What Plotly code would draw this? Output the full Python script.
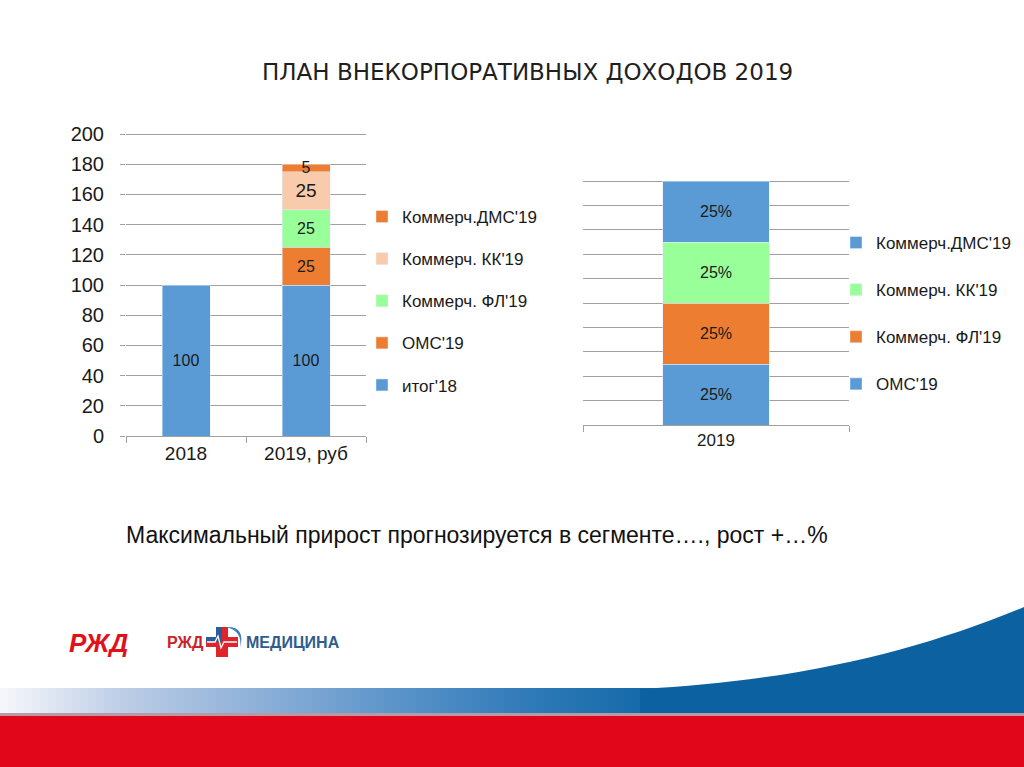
import plotly.graph_objects as go

W, H = 1024, 767


def px(x):
    return x / W


def py(y):
    return 1 - y / H


# ---------------- Data: left chart ----------------
left_categories = ["2018", "2019, руб"]
left_series = ["итог'18", "ОМС'19", "Коммерч. ФЛ'19", "Коммерч. КК'19", "Коммерч.ДМС'19"]
itog18 = [100, 100]
oms19 = [None, 25]
fl19 = [None, 25]
kk19 = [None, 25]
dms19 = [None, 5]
left_values = [itog18, oms19, fl19, kk19, dms19]
left_colors = ["#5B9BD5", "#ED7D31", "#99FF99", "#F8CBAD", "#ED7D31"]
left_label_sizes = [16, 16, 16, 19, 16]
left_yticks = list(range(0, 201, 20))

# ---------------- Data: right chart ----------------
right_categories = ["2019"]
right_series = ["ОМС'19", "Коммерч. ФЛ'19", "Коммерч. КК'19", "Коммерч.ДМС'19"]
right_oms = [0.25]
right_fl = [0.25]
right_kk = [0.25]
right_dms = [0.25]
right_values = [right_oms, right_fl, right_kk, right_dms]
right_colors = ["#5B9BD5", "#ED7D31", "#99FF99", "#5B9BD5"]

title_text = "ПЛАН ВНЕКОРПОРАТИВНЫХ ДОХОДОВ 2019"
note_text = "Максимальный прирост прогнозируется в сегменте…., рост +…%"

FONT = "Liberation Sans, Arial, sans-serif"
GRID = "#A0A0A0"

fig = go.Figure()

for i, (name, vals, col, fs) in enumerate(zip(left_series, left_values, left_colors, left_label_sizes)):
    fig.add_trace(go.Bar(
        x=left_categories, y=vals, name=name, marker_color=col,
        width=0.4, xaxis="x", yaxis="y",
        text=[("" if v is None else str(v)) for v in vals],
        textposition="inside", insidetextanchor="middle", constraintext="none",
        textangle=0,
        textfont=dict(size=fs, color="#1a1a1a", family=FONT),
        legend="legend", legendgroup="L" + name, legendrank=100 - i,
        hoverinfo="skip", cliponaxis=False,
    ))

for i, (name, vals, col) in enumerate(zip(right_series, right_values, right_colors)):
    fig.add_trace(go.Bar(
        x=right_categories, y=vals, name=name, marker_color=col,
        width=0.4, xaxis="x2", yaxis="y2",
        texttemplate="%{y:.0%}",
        textposition="inside", insidetextanchor="middle", textangle=0,
        textfont=dict(size=16, color="#1a1a1a", family=FONT),
        legend="legend2", legendgroup="R" + name, legendrank=100 - i,
        hoverinfo="skip",
    ))

axis_common = dict(showline=True, linecolor=GRID, linewidth=1, ticks="outside",
                   tickcolor=GRID, ticklen=6, tickson="boundaries", showgrid=False,
                   type="category", fixedrange=True, automargin=False)

layout_shapes = []

# bottom decoration: gradient band
stops = [(0, (247, 247, 251)), (130, (186, 203, 229)), (260, (141, 176, 216)),
         (400, (90, 147, 200)), (530, (47, 122, 184)), (650, (20, 105, 168)),
         (1024, (10, 92, 154))]


def grad(x):
    for (x0, c0), (x1, c1) in zip(stops[:-1], stops[1:]):
        if x0 <= x <= x1:
            t = (x - x0) / (x1 - x0)
            return "rgb(%d,%d,%d)" % tuple(round(a + (b - a) * t) for a, b in zip(c0, c1))
    return "rgb(10,92,154)"


n = 128
for i in range(n):
    x0 = i * W / n
    x1 = (i + 1) * W / n
    layout_shapes.append(dict(type="rect", xref="paper", yref="paper",
                              x0=px(x0), x1=px(x1 + 0.6), y0=py(713), y1=py(688),
                              fillcolor=grad((x0 + x1) / 2), line_width=0, layer="below"))

# curved blue wave
curve = "M %f,%f C %f,%f %f,%f %f,%f L %f,%f L %f,%f Z" % (
    px(640), py(689), px(800), py(681), px(920), py(650), px(1024), py(607),
    px(1024), py(713), px(640), py(713))
layout_shapes.append(dict(type="path", xref="paper", yref="paper", path=curve,
                          fillcolor="rgb(12,98,160)", line_width=0, layer="below"))
# thin separator and red band
layout_shapes.append(dict(type="rect", xref="paper", yref="paper", x0=0, x1=1,
                          y0=py(716), y1=py(713), fillcolor="#B79AA6", line_width=0, layer="below"))
layout_shapes.append(dict(type="rect", xref="paper", yref="paper", x0=0, x1=1,
                          y0=0, y1=py(716), fillcolor="#E2061A", line_width=0, layer="below"))

# medicine cross logo
layout_shapes.append(dict(type="rect", xref="paper", yref="paper",
                          x0=px(216), x1=px(228), y0=py(657), y1=py(627),
                          fillcolor="#E0242B", line_width=0))
layout_shapes.append(dict(type="rect", xref="paper", yref="paper",
                          x0=px(206), x1=px(238), y0=py(647), y1=py(637),
                          fillcolor="#E0242B", line_width=0))
layout_shapes.append(dict(type="rect", xref="paper", yref="paper",
                          x0=px(206), x1=px(222), y0=py(642), y1=py(637),
                          fillcolor="#2B5C9B", line_width=0))
layout_shapes.append(dict(type="rect", xref="paper", yref="paper",
                          x0=px(216), x1=px(222), y0=py(642), y1=py(627),
                          fillcolor="#2B5C9B", line_width=0))
arc = "M %f,%f Q %f,%f %f,%f Q %f,%f %f,%f Z" % (
    px(226), py(627), px(246), py(626), px(240), py(648),
    px(243), py(631), px(226), py(627))
layout_shapes.append(dict(type="path", xref="paper", yref="paper", path=arc,
                          fillcolor="#3E7FC0", line_width=0))
ecg = "M %f,%f L %f,%f L %f,%f L %f,%f L %f,%f L %f,%f" % (
    px(207), py(642), px(215), py(642), px(218), py(636), px(221), py(648),
    px(224), py(642), px(237), py(642))
layout_shapes.append(dict(type="path", xref="paper", yref="paper", path=ecg,
                          line=dict(color="white", width=1.3)))

annotations = [
    dict(text=title_text, x=px(527), y=py(72), xref="paper", yref="paper",
         showarrow=False, xanchor="center", yanchor="middle",
         font=dict(family="DejaVu Sans", size=23, color="#1f1f1f")),
    dict(text=note_text, x=px(124), y=py(535), xref="paper", yref="paper",
         showarrow=False, xanchor="left", yanchor="middle",
         font=dict(family=FONT, size=23, color="#111111")),
    dict(text="<b><i>РЖД</i></b>", x=px(98), y=py(643), xref="paper", yref="paper",
         showarrow=False, xanchor="center", yanchor="middle",
         font=dict(family=FONT, size=26, color="#E2101A")),
    dict(text="<b>РЖД</b>", x=px(185), y=py(642), xref="paper", yref="paper",
         showarrow=False, xanchor="center", yanchor="middle",
         font=dict(family=FONT, size=16, color="#C8242B")),
    dict(text="<b>МЕДИЦИНА</b>", x=px(244), y=py(642), xref="paper", yref="paper",
         showarrow=False, xanchor="left", yanchor="middle",
         font=dict(family=FONT, size=16, color="#2E5E8E")),
]

# y-axes: extend the range a hair so the top gridline is drawn
L_TOP, L_BOT = 134, 436
R_TOP, R_BOT = 181, 425
l_ext = 1.0
r_ext = 0.005
l_top_px = L_TOP - (L_BOT - L_TOP) * l_ext / 200
r_top_px = R_TOP - (R_BOT - R_TOP) * r_ext / 1

fig.update_layout(
    width=W, height=H, autosize=False,
    margin=dict(l=0, r=0, t=0, b=0, pad=0, autoexpand=False),
    paper_bgcolor="white", plot_bgcolor="rgba(0,0,0,0)",
    barmode="stack",
    font=dict(family=FONT, color="#1a1a1a"),
    xaxis=dict(domain=[px(126), px(366)], anchor="y",
               tickfont=dict(size=19, color="#1a1a1a"), **axis_common),
    yaxis=dict(domain=[py(L_BOT), py(l_top_px)], anchor="x", range=[0, 200 + l_ext],
               tickvals=left_yticks, showgrid=True, gridcolor=GRID, gridwidth=1,
               zeroline=False, showline=False, ticks="outside", ticklen=5,
               tickcolor=GRID, ticklabelstandoff=12, automargin=False,
               tickfont=dict(size=20, color="#1a1a1a"), fixedrange=True),
    xaxis2=dict(domain=[px(583), px(849)], anchor="y2",
                tickfont=dict(size=17, color="#1a1a1a"), **axis_common),
    yaxis2=dict(domain=[py(R_BOT), py(r_top_px)], anchor="x2", range=[0, 1 + r_ext],
                dtick=0.1, showgrid=True, gridcolor=GRID, gridwidth=1,
                zeroline=False, showline=False, showticklabels=False,
                automargin=False, fixedrange=True),
    legend=dict(x=px(362), y=py(199), xanchor="left", yanchor="top",
                traceorder="grouped", tracegroupgap=17,
                font=dict(size=17, color="#1a1a1a", family=FONT),
                bgcolor="rgba(0,0,0,0)"),
    legend2=dict(x=px(836), y=py(225), xanchor="left", yanchor="top",
                 traceorder="grouped", tracegroupgap=22,
                 font=dict(size=17, color="#1a1a1a", family=FONT),
                 bgcolor="rgba(0,0,0,0)"),
    shapes=layout_shapes,
    annotations=annotations,
    showlegend=True,
)

fig.write_html("out.html", config={"displayModeBar": False},
               post_script="document.body.style.margin='0';document.body.style.overflow='hidden';")
